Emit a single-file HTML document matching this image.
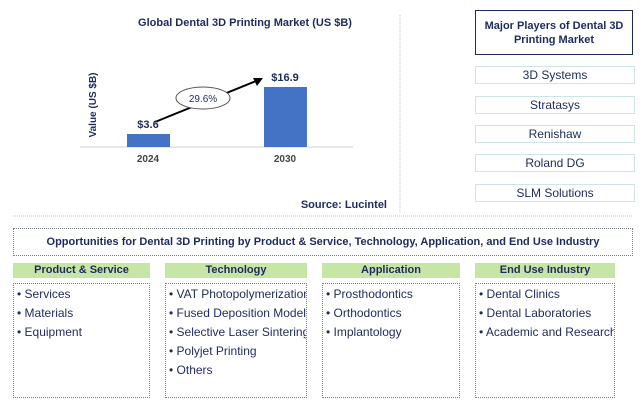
<!DOCTYPE html><html><head><style>
body{margin:0;width:643px;height:405px;background:#fff;font-family:"Liberation Sans",sans-serif;position:relative;overflow:hidden}
.a{position:absolute}
.nv{color:#1f2a5c}
.item{position:absolute;left:475px;width:158px;height:16px;border:1px solid #cfe3e8;text-align:center;font-size:12px;line-height:16px;color:#1f2a5c}
.hd{position:absolute;top:263px;height:15px;background:#c6e6a6;text-align:center;font-weight:bold;font-size:11px;line-height:15px;color:#1f2a5c}
.bx{position:absolute;top:283px;height:115px;border:1px dotted #7a7f90;box-sizing:border-box;font-size:12px;color:#1f2a5c;padding:1px 0 0 3px;line-height:19px;white-space:nowrap;overflow:hidden}
</style></head><body>
<svg class="a" style="left:0;top:0" width="643" height="405">
<line x1="400" y1="15" x2="400" y2="212" stroke="#f0c040" stroke-dasharray="1,1"/>
<line x1="13" y1="216" x2="633" y2="216" stroke="#f0c040" stroke-dasharray="1,1"/>
<line x1="80" y1="147" x2="353" y2="147" stroke="#d0d0d0"/>
<rect x="127" y="134" width="43" height="13" fill="#4472c4"/>
<rect x="264" y="87" width="43" height="60" fill="#4472c4"/>
<line x1="155" y1="122" x2="256" y2="81" stroke="#000" stroke-width="2"/>
<polygon points="263,78 253,78 257,86" fill="#000"/>
<ellipse cx="203" cy="98" rx="27" ry="11" fill="#fff" stroke="#555"/>
<text x="203" y="102" font-size="10" text-anchor="middle" fill="#1f2a5c" font-family="Liberation Sans">29.6%</text>
<text x="148" y="128" font-size="11" font-weight="bold" text-anchor="middle" fill="#1f2a5c" font-family="Liberation Sans">$3.6</text>
<text x="285" y="81" font-size="11" font-weight="bold" text-anchor="middle" fill="#1f2a5c" font-family="Liberation Sans">$16.9</text>
<text x="148" y="162" font-size="10" font-weight="bold" text-anchor="middle" fill="#444" font-family="Liberation Sans">2024</text>
<text x="285" y="162" font-size="10" font-weight="bold" text-anchor="middle" fill="#444" font-family="Liberation Sans">2030</text>
<text transform="translate(96,105) rotate(-90)" font-size="10" font-weight="bold" text-anchor="middle" fill="#1f2a5c" font-family="Liberation Sans">Value (US $B)</text>
<text x="245" y="26" font-size="11" font-weight="bold" text-anchor="middle" fill="#1f2a5c" font-family="Liberation Sans">Global Dental 3D Printing Market (US $B)</text>
<text x="387" y="208" font-size="11" font-weight="bold" text-anchor="end" fill="#1f2a5c" font-family="Liberation Sans">Source: Lucintel</text>
</svg>
<div class="a nv" style="left:475px;top:10px;width:158px;height:45px;border:1px solid #1f2a5c;box-sizing:border-box;font-size:11px;font-weight:bold;text-align:center;padding-top:8px;line-height:14px">Major Players of Dental 3D Printing Market</div>
<div class="item" style="top:66px">3D Systems</div>
<div class="item" style="top:96px">Stratasys</div>
<div class="item" style="top:125px">Renishaw</div>
<div class="item" style="top:154px">Roland DG</div>
<div class="item" style="top:184px">SLM Solutions</div>
<div class="a nv" style="left:13px;top:228px;width:620px;height:28px;border:1px dotted #7a7f90;box-sizing:border-box;text-align:center;font-size:11px;font-weight:bold;line-height:26px">Opportunities for Dental 3D Printing by Product &amp; Service, Technology, Application, and End Use Industry</div>
<div class="hd" style="left:13px;width:137px">Product &amp; Service</div>
<div class="hd" style="left:165px;width:142px">Technology</div>
<div class="hd" style="left:322px;width:138px">Application</div>
<div class="hd" style="left:475px;width:140px">End Use Industry</div>
<div class="bx" style="left:13px;width:137px">• Services<br>• Materials<br>• Equipment</div>
<div class="bx" style="left:165px;width:142px">• VAT Photopolymerization<br>• Fused Deposition Modeling<br>• Selective Laser Sintering<br>• Polyjet Printing<br>• Others</div>
<div class="bx" style="left:322px;width:138px">• Prosthodontics<br>• Orthodontics<br>• Implantology</div>
<div class="bx" style="left:475px;width:140px">• Dental Clinics<br>• Dental Laboratories<br>• Academic and Research</div>
</body></html>
